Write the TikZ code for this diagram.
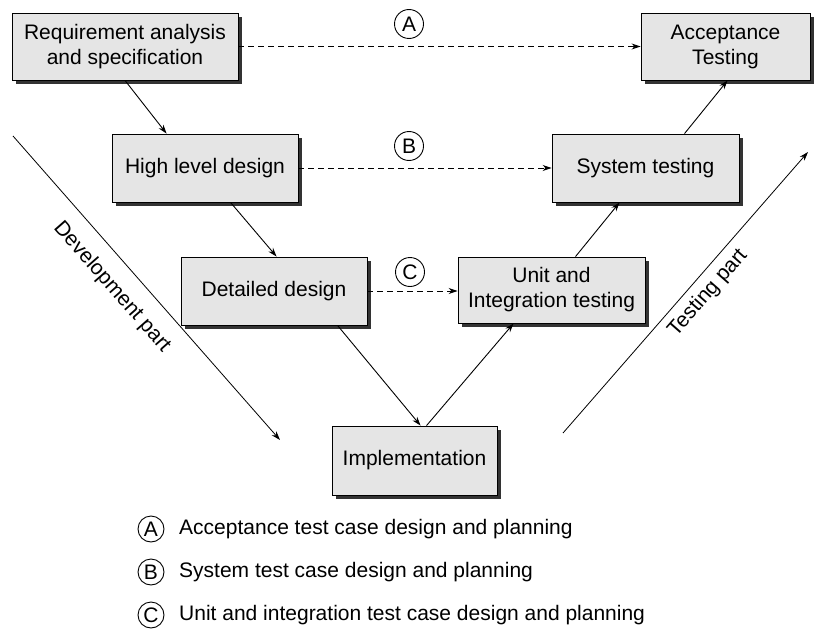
\documentclass[tikz,border=0pt]{standalone}
\usepackage{fontspec}
\setmainfont{Liberation Sans}
\usetikzlibrary{arrows.meta,shadows,calc}
\begin{document}
\begin{tikzpicture}[x=1pt,y=-1pt,
  font=\fontsize{21}{25}\selectfont,
  box/.style={draw=black, line width=0.9pt, fill=black!10, align=center, inner sep=0pt,
    drop shadow={shadow xshift=4pt, shadow yshift=-4pt, fill=black!80, opacity=1}},
  arr/.style={line width=0.9pt, -{Stealth[length=9pt,width=6pt]}},
  darr/.style={line width=0.9pt, dash pattern=on 6pt off 4pt, -{Stealth[length=9pt,width=6pt]}},
  circ/.style={circle, draw, line width=0.9pt, minimum size=29pt, inner sep=0pt},
  dline/.style={line width=0.8pt, -{Stealth[length=9pt,width=6pt]}}
]
\useasboundingbox (0,0) rectangle (822,634);
\node[box, minimum width=226pt, minimum height=67pt] (req) at (125,46.5) {Requirement analysis\\and specification};
\node[box, minimum width=169pt, minimum height=67pt] (acc) at (725.5,46.5) {Acceptance\\Testing};
\node[box, minimum width=186pt, minimum height=68pt] (high) at (205,168) {High level design};
\node[box, minimum width=187pt, minimum height=68pt] (sys) at (645.5,168) {System testing};
\node[box, minimum width=186pt, minimum height=68pt] (det) at (274,291) {Detailed design};
\node[box, minimum width=187pt, minimum height=66pt] (unit) at (551.5,290) {Unit and\\Integration testing};
\node[box, minimum width=165pt, minimum height=69pt] (impl) at (414.5,460.5) {Implementation};

\draw[arr] (req.south) -- ([xshift=55pt]high.north west);
\draw[arr] ([xshift=119pt]high.south west) -- ([xshift=96pt]det.north west);
\draw[arr] ([xshift=157pt]det.south west) -- ([xshift=89pt]impl.north west);
\draw[arr] ([xshift=95pt]impl.north west) -- ([xshift=56pt]unit.south west);
\draw[arr] ([xshift=118pt]unit.north west) -- ([xshift=68pt]sys.south west);
\draw[arr] ([xshift=133pt]sys.north west) -- ([xshift=87pt]acc.south west);

\draw[darr] (req.east) -- (acc.west);
\draw[darr] (high.east) -- (sys.west);
\draw[darr] (det.east) -- (det.east -| unit.west);

\node[circ] (ca) at (409,24) {A};
\node[circ] (cb) at (409,146) {B};
\node[circ] (cc) at (410,272) {C};

\coordinate (d1) at (13,136);
\coordinate (d2) at (280,440);
\draw[dline] (d1) -- (d2);
\node[rotate=-48.7] (dl) at (112,287) {Development part};
\coordinate (t1) at (563,433);
\coordinate (t2) at (808,152);
\draw[dline] (t1) -- (t2);
\node[rotate=48.8] (tl) at (708,293) {Testing part};

\node[circ, minimum size=26pt] (la) at (151,529) {A};
\node[circ, minimum size=26pt] (lb) at (151,572) {B};
\node[circ, minimum size=26pt] (lc) at (151,615) {C};
\node[anchor=west, inner sep=0pt] (ta) at (179,529) {Acceptance test case design and planning};
\node[anchor=west, inner sep=0pt] (tb) at (179,572) {System test case design and planning};
\node[anchor=west, inner sep=0pt] (tc) at (179,615) {Unit and integration test case design and planning};
\end{tikzpicture}
\end{document}
